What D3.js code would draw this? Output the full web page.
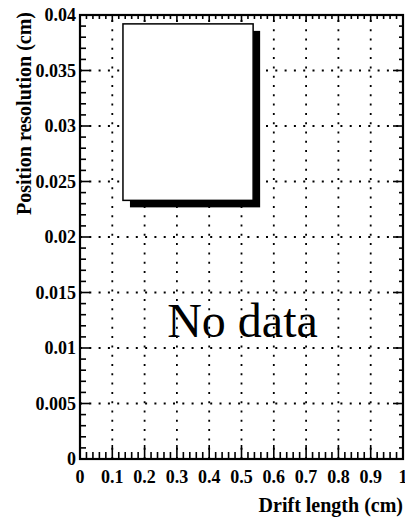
<!DOCTYPE html>
<html>
<head>
<meta charset="utf-8">
<script src="https://cdn.jsdelivr.net/npm/d3@7.9.0/dist/d3.min.js"></script>
<style>
  body { margin: 0; background: #fff; }
  svg { display: block; }
  text { font-family: "Liberation Serif", "Times New Roman", serif; fill: #000; }
</style>
</head>
<body>
<svg id="chart" width="405" height="518"></svg>
<script>
// axis setup
const xTicks = [0, 0.1, 0.2, 0.3, 0.4, 0.5, 0.6, 0.7, 0.8, 0.9, 1];
const xTickLabels = ['0', '0.1', '0.2', '0.3', '0.4', '0.5', '0.6', '0.7', '0.8', '0.9', '1'];
const yTicks = [0, 0.005, 0.01, 0.015, 0.02, 0.025, 0.03, 0.035, 0.04];
const yTickLabels = ['0', '0.005', '0.01', '0.015', '0.02', '0.025', '0.03', '0.035', '0.04'];
const xTitle = 'Drift length (cm)';
const yTitle = 'Position resolution (cm)';
const emptyMsg = 'No data';
// empty legend box corners (data units)
const legendX = [0.133, 0.536];
const legendY = [0.0392, 0.0233];

const svg = d3.select('#chart');

const x = d3.scaleLinear().domain([0, 1]).range([80, 403]);
const y = d3.scaleLinear().domain([0, 0.04]).range([459, 15]);

const xMinor = d3.range(0, 1.0001, 0.02);
const yMinor = d3.range(0, 0.04001, 0.001);

// dotted grid
const grid = svg.append('g')
  .attr('stroke', '#000')
  .attr('stroke-width', 1.8)
  .attr('stroke-dasharray', '2 7.3');

grid.selectAll('.vg')
  .data(xTicks.slice(1, -1))
  .join('line')
  .attr('x1', (d) => x(d)).attr('x2', (d) => x(d))
  .attr('y1', y(0)).attr('y2', y(0.04));

grid.selectAll('.hg')
  .data(yTicks.slice(1, -1))
  .join('line')
  .attr('class', 'hg')
  .attr('x1', x(0)).attr('x2', x(1))
  .attr('y1', (d) => y(d)).attr('y2', (d) => y(d));

// ticks on all four sides
const isMajor = (v, step) => Math.abs(v / step - Math.round(v / step)) < 1e-6;
const ticks = svg.append('g').attr('stroke', '#000').attr('stroke-width', 1.6);

xMinor.forEach((v) => {
  const major = isMajor(v, 0.1);
  ticks.append('line')
    .attr('x1', x(v)).attr('x2', x(v))
    .attr('y1', y(0)).attr('y2', y(0) - (major ? 14 : 7));
  ticks.append('line')
    .attr('x1', x(v)).attr('x2', x(v))
    .attr('y1', y(0.04)).attr('y2', y(0.04) + (major ? 7 : 4));
});

yMinor.forEach((v) => {
  const major = isMajor(v, 0.005);
  ticks.append('line')
    .attr('x1', x(0)).attr('x2', x(0) + (major ? 10 : 6))
    .attr('y1', y(v)).attr('y2', y(v));
  ticks.append('line')
    .attr('x1', x(1)).attr('x2', x(1) - (major ? 10 : 4))
    .attr('y1', y(v)).attr('y2', y(v));
});

// frame
svg.append('rect')
  .attr('x', x(0)).attr('y', y(0.04))
  .attr('width', x(1) - x(0)).attr('height', y(0) - y(0.04))
  .attr('fill', 'none')
  .attr('stroke', '#000')
  .attr('stroke-width', 2.2);

// tick labels
svg.append('g')
  .selectAll('text')
  .data(xTicks)
  .join('text')
  .attr('x', (d) => x(d))
  .attr('y', 483)
  .attr('text-anchor', 'middle')
  .attr('font-size', 18)
  .attr('font-weight', 'bold')
  .text((d, i) => xTickLabels[i]);

svg.append('g')
  .selectAll('text')
  .data(yTicks)
  .join('text')
  .attr('x', x(0) - 4)
  .attr('y', (d) => y(d) + 6)
  .attr('text-anchor', 'end')
  .attr('font-size', 18)
  .attr('font-weight', 'bold')
  .text((d, i) => yTickLabels[i]);

// axis titles
svg.append('text')
  .attr('x', 403)
  .attr('y', 512)
  .attr('text-anchor', 'end')
  .attr('font-size', 20)
  .attr('font-weight', 'bold')
  .text(xTitle);

svg.append('text')
  .attr('transform', 'translate(31,12) rotate(-90)')
  .attr('text-anchor', 'end')
  .attr('font-size', 20)
  .attr('font-weight', 'bold')
  .text(yTitle);

// empty legend with shadow
const lx0 = x(legendX[0]), lx1 = x(legendX[1]);
const ly0 = y(legendY[0]), ly1 = y(legendY[1]);
svg.append('rect')
  .attr('x', lx0 + 7).attr('y', ly0 + 7)
  .attr('width', lx1 - lx0).attr('height', ly1 - ly0)
  .attr('fill', '#000');
svg.append('rect')
  .attr('x', lx0).attr('y', ly0)
  .attr('width', lx1 - lx0).attr('height', ly1 - ly0)
  .attr('fill', '#fff')
  .attr('stroke', '#000')
  .attr('stroke-width', 1.5);

// "No data" message
svg.append('text')
  .attr('x', (x(0) + x(1)) / 2 + 1)
  .attr('y', y(0.011))
  .attr('text-anchor', 'middle')
  .attr('font-size', 48)
  .text(emptyMsg);
</script>
</body>
</html>
